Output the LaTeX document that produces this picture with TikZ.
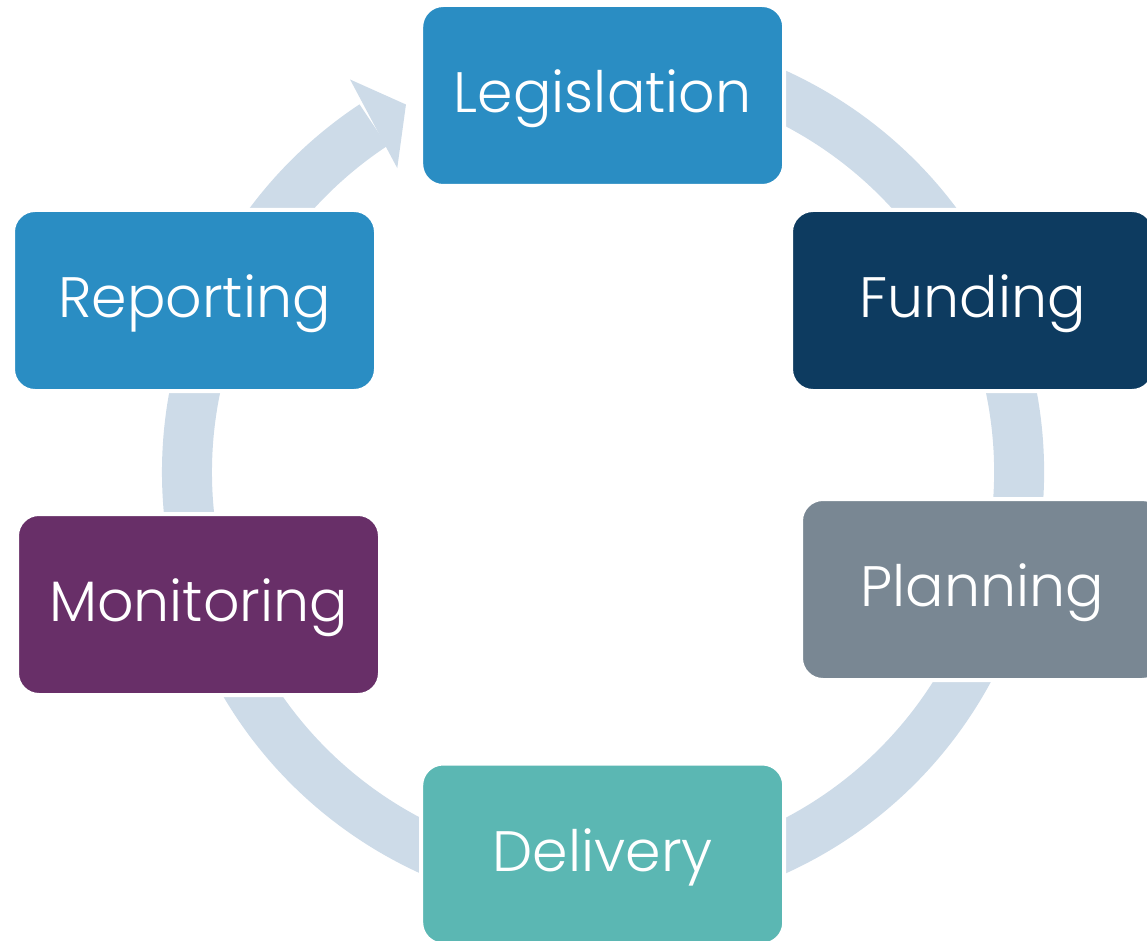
\documentclass[tikz,border=0pt]{standalone}
\usepackage{fontspec}
\setmainfont{Poppins}[UprightFont=* Light]
\usepackage{tikz}
\definecolor{lb}{RGB}{42, 141, 195}
\definecolor{nv}{RGB}{13, 59, 96}
\definecolor{gr}{RGB}{121, 135, 147}
\definecolor{tl}{RGB}{91, 183, 179}
\definecolor{pp}{RGB}{104, 47, 104}
\definecolor{rg}{RGB}{205, 219, 232}

\begin{document}
\begin{tikzpicture}[stage/.style={rectangle, rounded corners=22pt, minimum width=363pt, minimum height=181pt, line width=4pt, draw=white, text=white, font=\fontsize{57}{61}\selectfont, text height=40pt, text depth=6pt}]
\useasboundingbox (0pt, 0pt) rectangle (1147pt, -941pt);
\coordinate (hub) at (603pt, -472pt);
% ring and arrow head
\draw [line width=50pt, color=rg] (hub) ++(110:416pt) arc [start angle=110, end angle=-236.5, radius=416pt];
\fill [color=rg] ([shift={(122.8:467pt)}]hub) -- ([shift={(118.2:417pt)}]hub) -- ([shift={(124.1:367pt)}]hub) -- cycle;
% stages
\node (leg) [stage, fill=lb] at (602.7pt, -95.5pt)  {Legislation};
\node (fun) [stage, fill=nv] at (972.5pt, -300.5pt) {Funding};
\node (pla) [stage, fill=gr] at (982.5pt, -589.5pt) {Planning};
\node (del) [stage, fill=tl] at (602.7pt, -854pt)   {Delivery};
\node (mon) [stage, fill=pp] at (198.5pt, -604.5pt) {Monitoring};
\node (rep) [stage, fill=lb] at (194.5pt, -300.5pt) {Reporting};
\end{tikzpicture}
\end{document}
